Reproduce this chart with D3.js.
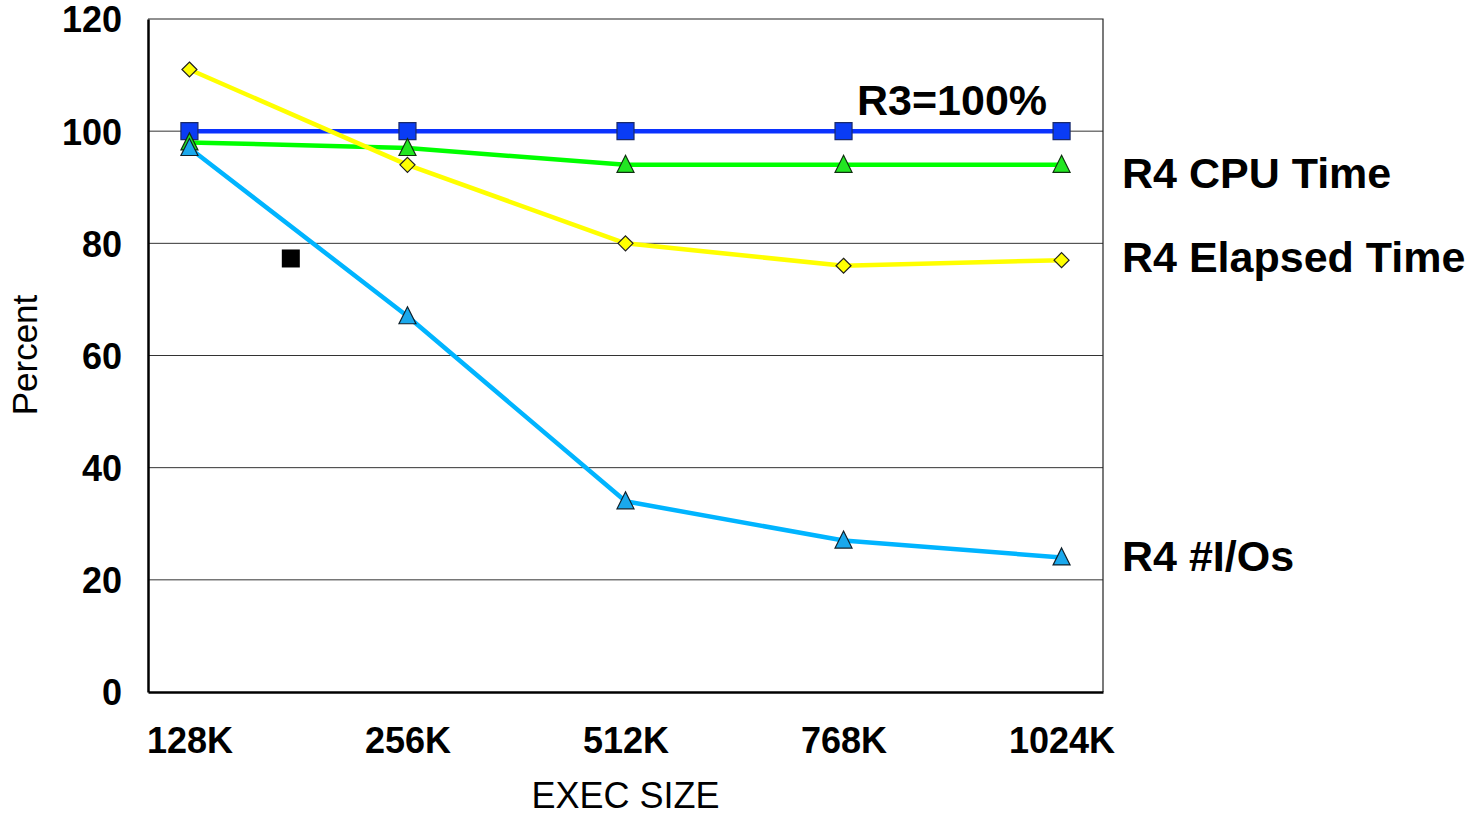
<!DOCTYPE html>
<html>
<head>
<meta charset="utf-8">
<script src="https://cdn.jsdelivr.net/npm/d3@7"></script>
<style>
	body { margin: 0; background: #fff; }
	text { font-family: 'Liberation Sans', Arial, sans-serif; fill: #000; }
</style>
</head>
<body>
<div id="chart"></div>
<script>
const categories = [ '128K', '256K', '512K', '768K', '1024K' ];
const yTicks = [ 0, 20, 40, 60, 80, 100, 120 ];

const r3Values = [ 100, 100, 100, 100, 100 ];
const cpuValues = [ 98, 97, 94, 94, 94 ];
const elapsedValues = [ 111, 94, 80, 76, 77 ];
const ioValues = [ 97, 67, 34, 27, 24 ];

// stray marker in the plot, position given as fractional category index
const strayPoints = [ { index: 0.465, value: 77.3 } ];

const seriesNames = [ 'R3=100%', 'R4 CPU Time', 'R4 Elapsed Time', 'R4 #I/Os' ];

let dimensions = {
	width  : 1469,
	height : 817,
	margin : {
		top    : 19,
		right  : 366,
		bottom : 125,
		left   : 148
	}
};
dimensions.boundedWidth = dimensions.width - dimensions.margin.left - dimensions.margin.right;
dimensions.boundedHeight = dimensions.height - dimensions.margin.top - dimensions.margin.bottom;

const svg = d3.select('#chart').append('svg').attr('width', dimensions.width).attr('height', dimensions.height);

const bounds = svg.append('g').attr('transform', `translate(${dimensions.margin.left}, ${dimensions.margin.top})`);

const x = d3.scalePoint().domain(categories).range([ 0, dimensions.boundedWidth ]).padding(0.19);
const y = d3.scaleLinear().domain([ 0, 120 ]).range([ dimensions.boundedHeight, 0 ]);

// gridlines
bounds
	.append('g')
	.selectAll('line')
	.data(yTicks.filter((d) => d > 0 && d < 120))
	.enter()
	.append('line')
	.attr('x1', 0)
	.attr('x2', dimensions.boundedWidth)
	.attr('y1', (d) => y(d))
	.attr('y2', (d) => y(d))
	.attr('stroke', '#333')
	.attr('stroke-width', 1);

// top and right frame
bounds
	.append('path')
	.attr('d', `M0,${y(120)}H${dimensions.boundedWidth}V${y(0)}`)
	.attr('fill', 'none')
	.attr('stroke', '#222')
	.attr('stroke-width', 1.2);

// y axis
const yAxisGenerator = d3.axisLeft(y).tickValues(yTicks).tickSize(0).tickPadding(26);
const yAxis = bounds.append('g').call(yAxisGenerator);
yAxis.select('.domain').attr('stroke', '#000').attr('stroke-width', 2.5);
yAxis.selectAll('text').attr('font-size', 36).attr('font-weight', 'bold').attr('dy', '0.36em');

// x axis
const xAxisGenerator = d3.axisBottom(x).tickSize(0).tickPadding(35);
const xAxis = bounds.append('g').attr('transform', `translate(0, ${dimensions.boundedHeight})`).call(xAxisGenerator);
xAxis.select('.domain').attr('stroke', '#000').attr('stroke-width', 2.5);
xAxis.selectAll('text').attr('font-size', 36).attr('font-weight', 'bold');

// axis titles
svg
	.append('text')
	.attr('x', dimensions.margin.left + x('512K'))
	.attr('y', 808)
	.attr('text-anchor', 'middle')
	.attr('font-size', 36)
	.text('EXEC SIZE');

svg
	.append('text')
	.attr('transform', 'translate(37, 355) rotate(-90)')
	.attr('text-anchor', 'middle')
	.attr('font-size', 35)
	.text('Percent');

const series = [
	{ name: seriesNames[0], values: r3Values, line: '#0a32ff', fill: '#0a3cf5', stroke: '#1a2a6a', shape: 'square', size: 17 },
	{ name: seriesNames[1], values: cpuValues, line: '#00ff00', fill: '#22e622', stroke: '#103010', shape: 'triangle', size: 17 },
	{ name: seriesNames[3], values: ioValues, line: '#00b4ff', fill: '#1aa8ec', stroke: '#10202a', shape: 'triangle', size: 17 },
	{ name: seriesNames[2], values: elapsedValues, line: '#ffff00', fill: '#ffff00', stroke: '#202020', shape: 'diamond', size: 15 }
];

const lineGenerator = d3
	.line()
	.x((d, i) => x(categories[i]))
	.y((d) => y(d));

series.forEach(function(s) {
	bounds
		.append('path')
		.datum(s.values)
		.attr('d', lineGenerator)
		.attr('fill', 'none')
		.attr('stroke', s.line)
		.attr('stroke-width', 4.5)
		.attr('stroke-linejoin', 'round');
});

function markerPath(shape, size) {
	const h = size / 2;
	if (shape === 'square') return `M${-h},${-h}H${h}V${h}H${-h}Z`;
	if (shape === 'diamond') return `M0,${-h}L${h},0L0,${h}L${-h},0Z`;
	return `M0,${-h - 1}L${h},${h - 1}H${-h}Z`;
}

series.forEach(function(s) {
	bounds
		.append('g')
		.selectAll('path')
		.data(s.values)
		.enter()
		.append('path')
		.attr('transform', (d, i) => `translate(${x(categories[i])}, ${y(d)})`)
		.attr('d', markerPath(s.shape, s.size))
		.attr('fill', s.fill)
		.attr('stroke', s.stroke)
		.attr('stroke-width', 1.2);
});

const step = x.step();
bounds
	.append('g')
	.selectAll('rect')
	.data(strayPoints)
	.enter()
	.append('rect')
	.attr('x', (d) => x(categories[0]) + d.index * step - 9)
	.attr('y', (d) => y(d.value) - 9)
	.attr('width', 18)
	.attr('height', 18)
	.attr('fill', '#000');

// series labels
const labelLayout = [
	{ text: seriesNames[0], x: 857, y: 115 },
	{ text: seriesNames[1], x: 1122, y: 188 },
	{ text: seriesNames[2], x: 1122, y: 272 },
	{ text: seriesNames[3], x: 1122, y: 571 }
];

svg
	.append('g')
	.selectAll('text')
	.data(labelLayout)
	.enter()
	.append('text')
	.attr('x', (d) => d.x)
	.attr('y', (d) => d.y)
	.attr('font-size', 43)
	.attr('font-weight', 'bold')
	.text((d) => d.text);
</script>
</body>
</html>
